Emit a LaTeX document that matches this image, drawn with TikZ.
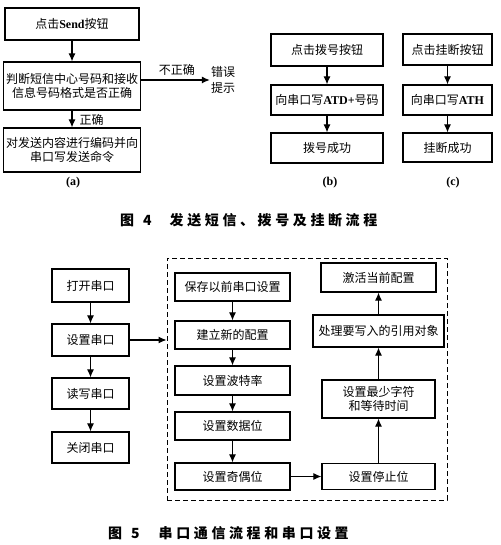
\documentclass[tikz,border=0pt]{standalone}
\usepackage{fontspec}
\setmainfont{Noto Sans CJK SC}
\newfontfamily\lat{Liberation Serif}
\usetikzlibrary{arrows.meta}
\newcommand\gp{\hspace{3.6pt}}
\begin{document}
\begin{tikzpicture}[x=1pt,y=-1pt,
  bx/.style={draw, line width=1.2pt, inner sep=1pt, align=center, font=\fontsize{12}{14}\selectfont},
  arr/.style={line width=1.1pt, -{Latex[length=8pt,width=7pt]}},
  lbl/.style={font=\fontsize{12}{14}\selectfont, inner sep=1pt},
  sub/.style={font=\lat\bfseries\fontsize{12}{14}\selectfont, inner sep=1pt},
  figcap/.style={font=\bfseries\fontsize{14}{16}\selectfont, inner sep=0pt, anchor=west}]
\useasboundingbox (0,0) rectangle (500,545);
% ---------- Figure 4 (a)
\node[bx, minimum width=134pt, minimum height=32pt] (a1) at (72,24) {点击{\lat\bfseries Send}按钮};
\node[bx, minimum width=137pt, minimum height=48pt] (a2) at (72,86) {判断短信中心号码和接收\\信息号码格式是否正确};
\node[bx, minimum width=137pt, minimum height=44pt] (a3) at (72,150) {对发送内容进行编码并向\\串口写发送命令};
\node[lbl, align=center, font=\fontsize{12}{16}\selectfont] (err) at (223,80) {错误\\提示};
\draw[arr] (a1) -- (a2);
\draw[arr] (a2) -- node[lbl, right=6pt, pos=0.55] {正确} (a3);
\draw[arr] (a2.east |- err.west) -- node[lbl, above=3pt, pos=0.52] {不正确} (err.west);
\node[sub] (la) at (73,183) {(a)};
% ---------- (b)
\node[bx, minimum width=112pt, minimum height=32pt] (b1) at (327,50) {点击拨号按钮};
\node[bx, minimum width=112pt, minimum height=30pt] (b2) at (327,100) {向串口写{\lat\bfseries ATD+}号码};
\node[bx, minimum width=112pt, minimum height=30pt] (b3) at (327,148) {拨号成功};
\draw[arr] (b1) -- (b2);
\draw[arr] (b2) -- (b3);
\node[sub] (lb) at (330,183) {(b)};
% ---------- (c)
\node[bx, minimum width=89pt, minimum height=31pt] (c1) at (447.5,49.5) {点击挂断按钮};
\node[bx, minimum width=89pt, minimum height=30pt] (c2) at (447.5,100) {向串口写{\lat\bfseries ATH}};
\node[bx, minimum width=89pt, minimum height=29pt] (c3) at (447.5,147.5) {挂断成功};
\draw[arr] (c1) -- (c2);
\draw[arr] (c2) -- (c3);
\node[sub] (lc) at (453,183) {(c)};
% caption 4
\node[figcap] (cap4) at (120,220) {图\hspace{9pt}4\hspace{18pt}发\gp 送\gp 短\gp 信\gp 、\gp 拨\gp 号\gp 及\gp 挂\gp 断\gp 流\gp 程};
% ---------- Figure 5
\node[bx, minimum width=77pt, minimum height=33pt] (s1) at (90.5,285.5) {打开串口};
\node[bx, minimum width=77pt, minimum height=32pt] (s2) at (90.5,340) {设置串口};
\node[bx, minimum width=77pt, minimum height=31pt] (s3) at (90.5,393.5) {读写串口};
\node[bx, minimum width=77pt, minimum height=31pt] (s4) at (90.5,447.5) {关闭串口};
\draw[arr] (s1) -- (s2);
\draw[arr] (s2) -- (s3);
\draw[arr] (s3) -- (s4);
\node[draw, line width=1pt, dash pattern=on 5pt off 3pt, minimum width=280pt, minimum height=242pt, inner sep=0pt] (dash) at (307,379) {};
\draw[arr] (s2.east) -- (s2.east -| dash.west);
\node[bx, minimum width=115pt, minimum height=28pt] (L1) at (232.5,287) {保存以前串口设置};
\node[bx, minimum width=115pt, minimum height=28pt] (L2) at (232.5,335) {建立新的配置};
\node[bx, minimum width=115pt, minimum height=29pt] (L3) at (232.5,380.5) {设置波特率};
\node[bx, minimum width=115pt, minimum height=28pt] (L4) at (232.5,426) {设置数据位};
\node[bx, minimum width=115pt, minimum height=27pt] (L5) at (232.5,476.5) {设置奇偶位};
\node[bx, minimum width=113pt, minimum height=26pt] (R4) at (378.5,476.5) {设置停止位};
\node[bx, minimum width=113pt, minimum height=38pt] (R3) at (378.5,399) {设置最少字符\\和等待时间};
\node[bx, minimum width=131pt, minimum height=32pt] (R2) at (378.5,331) {处理要写入的引用对象};
\node[bx, minimum width=115pt, minimum height=29pt] (R1) at (378.5,277.5) {激活当前配置};
\draw[arr] (L1) -- (L2);
\draw[arr] (L2) -- (L3);
\draw[arr] (L3) -- (L4);
\draw[arr] (L4) -- (L5);
\draw[arr] (L5) -- (R4);
\draw[arr] (R4) -- (R3);
\draw[arr] (R3) -- (R2);
\draw[arr] (R2) -- (R1);
% caption 5
\node[figcap] (cap5) at (108,533) {图\hspace{9pt}5\hspace{19pt}串\gp 口\gp 通\gp 信\gp 流\gp 程\gp 和\gp 串\gp 口\gp 设\gp 置};
\end{tikzpicture}
\end{document}
